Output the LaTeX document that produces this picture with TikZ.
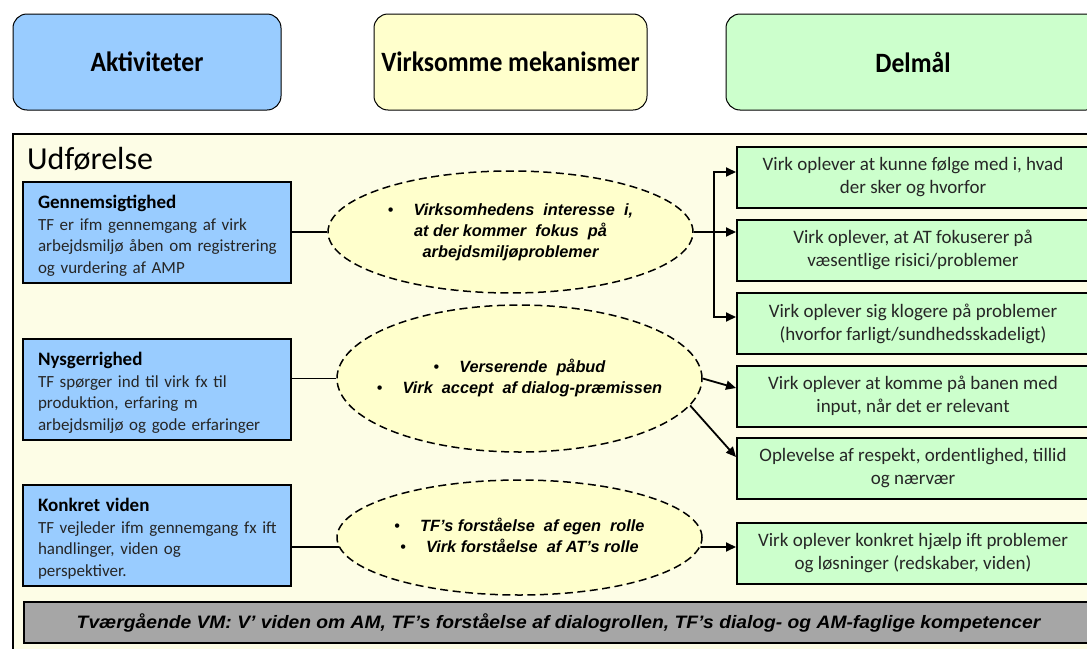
\documentclass[tikz,border=0pt]{standalone}
\usepackage{fontspec}
\setmainfont{Carlito}
\newfontfamily\arialf{Liberation Sans}
\usetikzlibrary{shapes.geometric,arrows.meta,calc}
\definecolor{actblue}{HTML}{99CCFF}
\definecolor{mechyel}{HTML}{FFFFCC}
\definecolor{goalgreen}{HTML}{CCFFCC}
\definecolor{framebg}{HTML}{FDFDE6}
\definecolor{ellfill}{HTML}{FFFFCC}
\definecolor{bargray}{HTML}{A6A6A6}
\definecolor{bodytxt}{HTML}{262626}
\newcommand{\acttitle}[1]{\rule{0pt}{23pt}{\fontsize{19}{21.5}\selectfont\bfseries\color{black}#1}}
\newcommand{\mbul}{{\mdseries\upshape\textbullet}\hspace{20pt}}
\begin{document}
\begin{tikzpicture}[x=1pt,y=-1pt,
 hdr/.style={draw=black, line width=1pt, rounded corners=14pt, minimum height=96pt, inner sep=0pt, font=\fontsize{28}{30}\selectfont\bfseries},
 actbox/.style={draw=black, line width=2pt, fill=actblue, minimum width=268pt, minimum height=97pt, text width=238pt, align=left, inner xsep=15pt, font=\fontsize{17}{21.5}\selectfont, text=bodytxt},
 goalbox/.style={draw=black, line width=2pt, fill=goalgreen, minimum width=352pt, minimum height=61pt, align=center, inner sep=0pt, font=\fontsize{19}{23}\selectfont, text=bodytxt},
 mech/.style={ellipse, draw=black, dash pattern=on 8pt off 4.5pt, line width=1.5pt, fill=ellfill, inner sep=0pt, font=\arialf\bfseries\itshape\fontsize{16.3}{21}\selectfont},
 conn/.style={line width=1.8pt},
 arr/.style={line width=1.8pt, -{Triangle[length=10pt,width=9pt]}}
]
\useasboundingbox (0,0) rectangle (1087,648);
% header boxes
\node[hdr, fill=actblue, minimum width=268pt] (h1) at (147,62) {\scalebox{0.915}[1]{Aktiviteter}};
\node[hdr, fill=mechyel, minimum width=273pt] (h2) at (510.5,62) {\scalebox{0.915}[1]{Virksomme mekanismer}};
\node[hdr, fill=goalgreen, minimum width=374pt] (h3) at (913,62) {\scalebox{0.915}[1]{Delmål}};
% frame
\node[draw=black, line width=2pt, fill=framebg, anchor=north west, minimum width=1090pt, minimum height=530pt, inner sep=0pt] (frame) at (12,133) {};
\node[anchor=west, inner sep=0pt, font=\fontsize{32}{32}\selectfont] (udf) at (27,159) {Udførelse};
% activities
\node[actbox] (b1) at (157,232.5) {\begin{tabular}{@{}l@{}}\acttitle{Gennemsigtighed}\\TF er ifm gennemgang af virk\\arbejdsmiljø åben om registrering\\og vurdering af AMP\end{tabular}};
\node[actbox] (b2) at (157,389.5) {\begin{tabular}{@{}l@{}}\acttitle{Nysgerrighed}\\TF spørger ind til virk fx til\\produktion, erfaring m\\arbejdsmiljø og gode erfaringer\end{tabular}};
\node[actbox] (b3) at (157,535.5) {\begin{tabular}{@{}l@{}}\acttitle{Konkret viden}\\TF vejleder ifm gennemgang fx ift\\handlinger, viden og\\perspektiver.\end{tabular}};
% mechanisms
\node[mech, minimum width=365pt, minimum height=122pt] (e1) at (510.5,232) {\makebox[180pt][c]{\begin{tabular}{@{}c@{}}\mbul Virksomhedens\ \ interesse\ \ i,\\at der kommer\ \ fokus\ \ på\\arbejdsmiljøproblemer\end{tabular}}};
\node[mech, minimum width=365pt, minimum height=147pt] (e2) at (519.5,378.5) {\makebox[180pt][c]{\begin{tabular}{@{}c@{}}\mbul Verserende\ \ påbud\\\mbul Virk\ \ accept\ \ af\ dialog-præmissen\end{tabular}}};
\node[mech, minimum width=365pt, minimum height=115pt] (e3) at (519.5,537.5) {\makebox[180pt][c]{\begin{tabular}{@{}c@{}}\mbul TF’s forståelse\ \ af egen\ \ rolle\\\mbul Virk\ forståelse\ \ af AT’s rolle\end{tabular}}};
% goals
\node[goalbox] (g1) at (913,177.5) {Virk oplever at kunne følge med i, hvad\\der sker og hvorfor};
\node[goalbox] (g2) at (913,250) {Virk oplever, at AT fokuserer på\\væsentlige risici/problemer};
\node[goalbox] (g3) at (913,323.5) {Virk oplever sig klogere på problemer\\(hvorfor farligt/sundhedsskadeligt)};
\node[goalbox] (g4) at (913,396) {Virk oplever at komme på banen med\\input, når det er relevant};
\node[goalbox] (g5) at (913,468) {Oplevelse af respekt, ordentlighed, tillid\\og nærvær};
\node[goalbox] (g6) at (913,553) {Virk oplever konkret hjælp ift problemer\\og løsninger (redskaber, viden)};
% bottom bar
\node[draw=black, line width=2pt, fill=bargray, anchor=north west, minimum width=1075pt, minimum height=41pt, inner sep=0pt, font=\arialf\bfseries\itshape\fontsize{18}{20}\selectfont] (bar) at (23,601) {\hspace*{-6pt}\scalebox{1.07}[1]{Tværgående VM: V’ viden om AM, TF’s forståelse af dialogrollen, TF’s dialog- og AM-faglige kompetencer}};
% connectors left
\draw[conn] (b1.east |- e1.west) -- (e1.west);
\draw[conn] (b2.east |- e2.west) -- (e2.west);
\draw[conn] (b3.east |- e3.183) -- (e3.183);
% connectors right
\coordinate (j1) at ($(e1.east)+(20,0)$);
\draw[arr] (e1.east) -- (e1.east -| g2.west);
\draw[arr] (j1) |- ([yshift=5.5pt]g1.west);
\draw[arr] (j1) |- ([yshift=6.5pt]g3.west);
\draw[arr] (e2.east) -- ([yshift=8pt]g4.west);
\draw[arr] (e2.-9) -- ([yshift=11pt]g5.west);
\draw[arr] (e3.-3) -- ([yshift=6pt]g6.west);
\end{tikzpicture}
\end{document}
